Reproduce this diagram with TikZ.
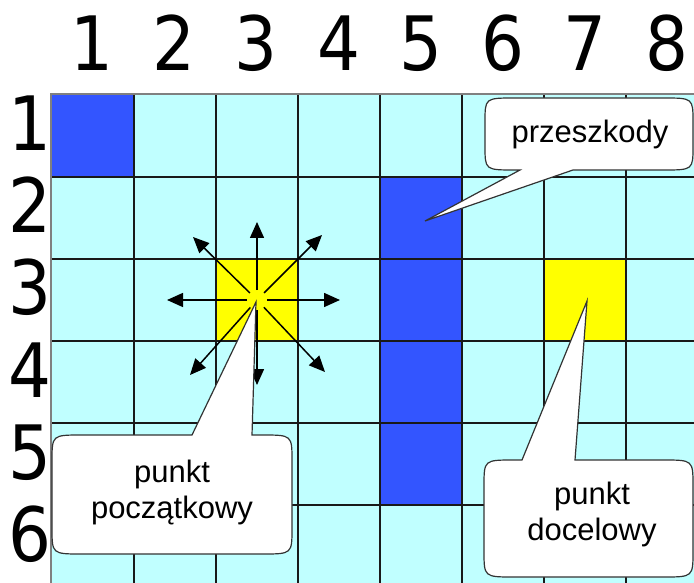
\documentclass[tikz,border=0pt]{standalone}
\usepackage{fontspec}
\setmainfont{Liberation Sans}
\newfontfamily\gridnumfont[FakeStretch=0.9]{DejaVu Sans}
\usetikzlibrary{arrows.meta,calc}
\definecolor{cellcyan}{HTML}{C0FFFF}
\definecolor{obstblue}{HTML}{3355FF}
\definecolor{startyellow}{HTML}{FFFF00}
\definecolor{edgegray}{HTML}{333333}
\tikzset{
  gridline/.style={line width=1pt, draw=black!90},
  gridborder/.style={line width=1pt, draw=gray},
  numlabel/.style={font=\gridnumfont\fontsize{37.5}{40}\selectfont, inner sep=0pt, anchor=base},
  movearrow/.style={line width=0.75pt, -{Triangle[length=8pt,width=7pt]}},
  bubble/.style={fill=white, draw=edgegray, line width=0.6pt},
  bubbletext/.style={font=\fontsize{15.5}{18}\selectfont, align=center, inner sep=0pt},
}
% callout with pointer on top edge: x1 y1 x2 y2 baseleft baseright tip
\newcommand\drawBubbleTop[7]{%
  \draw[bubble] (#7) -- (#5,#2) -- ({#1+30},#2) .. controls (#1,#2) .. (#1,{#2+26})
    -- (#1,{#4-26}) .. controls (#1,#4) .. ({#1+30},#4)
    -- ({#3-30},#4) .. controls (#3,#4) .. (#3,{#4-26})
    -- (#3,{#2+26}) .. controls (#3,#2) .. ({#3-30},#2)
    -- (#6,#2) -- cycle;}
% callout with pointer on bottom edge
\newcommand\drawBubbleBottom[7]{%
  \draw[bubble] (#7) -- (#6,#4) -- ({#3-30},#4) .. controls (#3,#4) .. (#3,{#4-24})
    -- (#3,{#2+24}) .. controls (#3,#2) .. ({#3-30},#2)
    -- ({#1+30},#2) .. controls (#1,#2) .. (#1,{#2+24})
    -- (#1,{#4-24}) .. controls (#1,#4) .. ({#1+30},#4)
    -- (#5,#4) -- cycle;}
\begin{document}
\begin{tikzpicture}[x=0.5pt,y=-0.5pt]
\useasboundingbox (0,0) rectangle (694,582);
\clip (0,0) rectangle (694,582);
% grid cells
\fill[cellcyan] (51,94) rectangle (710,590);
\fill[obstblue] (51,94) rectangle (134,177);
\fill[obstblue] (380,177) rectangle (462,505);
\fill[startyellow] (216,259) rectangle (298,341);
\fill[startyellow] (544,259) rectangle (626,341);
\foreach \x in {134,216,298,380,462,544,626}
  \draw[gridline] (\x,94) -- (\x,590);
\foreach \y in {177,259,341,423,505}
  \draw[gridline] (51,\y) -- (710,\y);
\draw[gridborder] (51,590) -- (51,94) -- (710,94);
% numbers
\foreach \n in {1,...,8}
  \node[numlabel] (col\n) at ({51+82.15*(\n-0.5)},71) {\n};
\foreach \n in {1,...,6}
  \node[numlabel] (row\n) at (30,{94+82.15*(\n-0.5)+15.5}) {\n};
% moves
\coordinate (C) at (257,300);
\coordinate (aU) at (257,222);
\coordinate (aD) at (257,385);
\coordinate (aL) at (167,300);
\coordinate (aR) at (340,300);
\coordinate (aUL) at (193,237);
\coordinate (aUR) at (322,235);
\coordinate (aDL) at (190,375);
\coordinate (aDR) at (325,372);
\foreach \t in {aU,aD,aL,aR,aUL,aUR,aDL,aDR}
  \draw[movearrow] ($(C)!5pt!(\t)$) -- (\t);
% callouts
\coordinate (obstTip) at (425,221);
\coordinate (startTip) at (256,302);
\coordinate (goalTip) at (587,301);
\drawBubbleBottom{485}{98}{693}{170}{520}{573}{obstTip}
\drawBubbleTop{52}{435}{292}{554}{192}{252}{startTip}
\drawBubbleTop{484}{460}{693}{577}{522}{575}{goalTip}
\node[bubbletext] (tObst) at (590,134) {przeszkody};
\node[bubbletext] (tStart) at (172,492) {punkt\\początkowy};
\node[bubbletext] (tGoal) at (592,514) {punkt\\docelowy};
\end{tikzpicture}
\end{document}
